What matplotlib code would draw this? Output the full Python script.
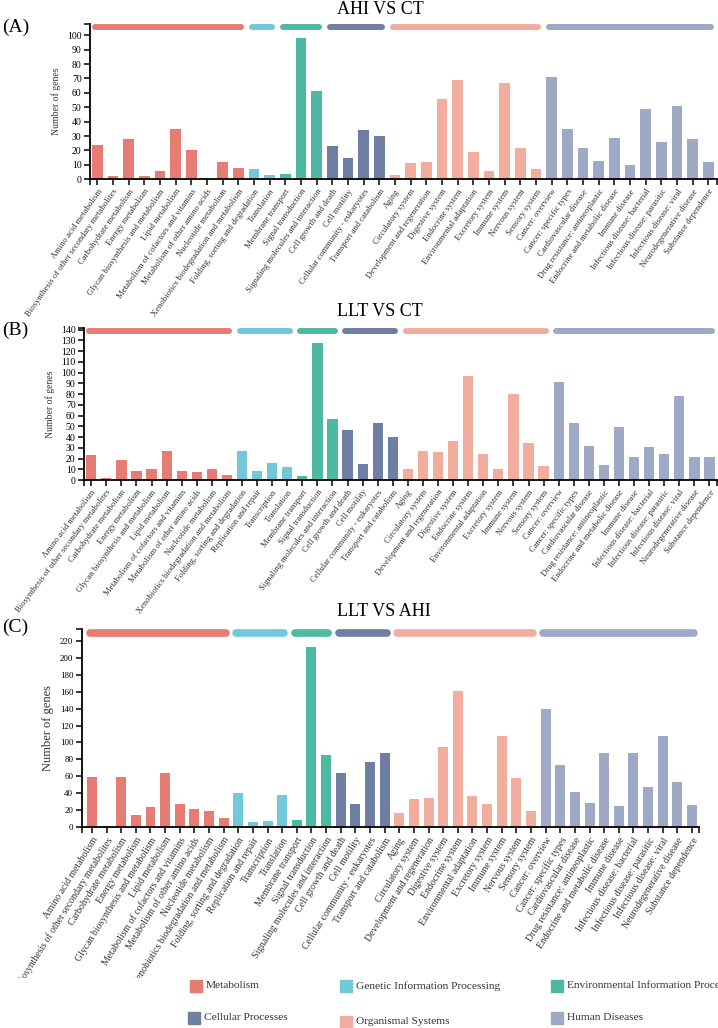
import matplotlib
matplotlib.use("Agg")
import matplotlib.pyplot as plt
from matplotlib.patches import Rectangle
from matplotlib.transforms import Bbox

plt.rcParams['font.family'] = ['Liberation Serif', 'DejaVu Serif']

# KEGG level-1 groups
group_names = ["Metabolism", "Genetic Information Processing",
               "Environmental Information Proce", "Cellular Processes",
               "Organismal Systems", "Human Diseases"]
group_colors = ["#E67C73", "#72C7D8", "#4DB9A3", "#6F7FA1", "#F1AE9F", "#9DA9C5"]

metabolism = ["Amino acid metabolism", "Biosynthesis of other secondary metabolites",
              "Carbohydrate metabolism", "Energy metabolism",
              "Glycan biosynthesis and metabolism", "Lipid metabolism",
              "Metabolism of cofactors and vitamins", "Metabolism of other amino acids",
              "Nucleotide metabolism", "Xenobiotics biodegradation and metabolism"]
genetic_a = ["Folding, sorting and degradation", "Translation"]
genetic_bc = ["Folding, sorting and degradation", "Replication and repair",
              "Transcription", "Translation"]
environmental = ["Membrane transport", "Signal transduction",
                 "Signaling molecules and interaction"]
cellular = ["Cell growth and death", "Cell motility",
            "Cellular community - eukaryotes", "Transport and catabolism"]
organismal = ["Aging", "Circulatory system", "Development and regeneration",
              "Digestive system", "Endocrine system", "Environmental adaptation",
              "Excretory system", "Immune system", "Nervous system", "Sensory system"]
human = ["Cancer: overview", "Cancer: specific types", "Cardiovascular disease",
         "Drug resistance: antineoplastic", "Endocrine and metabolic disease",
         "Immune disease", "Infectious disease: bacterial",
         "Infectious disease: parasitic", "Infectious disease: viral",
         "Neurodegenerative disease", "Substance dependence"]

# AHI vs CT
a_metab = [24, 2, 28, 2, 6, 35, 20, 0, 12, 8]
a_gen = [7, 3]
a_env = [4, 98, 61]
a_cell = [23, 15, 34, 30]
a_org = [3, 11, 12, 56, 69, 19, 6, 67, 22, 7]
a_hum = [71, 35, 22, 13, 29, 10, 49, 26, 51, 28, 12]

# LLT vs CT
b_metab = [23, 2, 19, 8, 10, 27, 8, 7, 10, 5]
b_gen = [27, 8, 16, 12]
b_env = [4, 128, 57]
b_cell = [47, 15, 53, 40]
b_org = [10, 27, 26, 36, 97, 24, 10, 80, 34, 13]
b_hum = [91, 53, 32, 14, 49, 21, 31, 24, 78, 21, 21]

# LLT vs AHI
c_metab = [59, 2, 59, 15, 24, 64, 27, 21, 19, 11]
c_gen = [41, 6, 8, 38]
c_env = [9, 213, 85]
c_cell = [64, 28, 77, 88]
c_org = [17, 33, 34, 95, 161, 37, 27, 108, 58, 19]
c_hum = [139, 74, 42, 29, 88, 25, 88, 47, 108, 53, 26]

W, H = 718, 1028
fig = plt.figure(figsize=(W / 100, H / 100), dpi=100)


def px_rect(left, right, top, bottom):
    return [left / W, 1 - bottom / H, (right - left) / W, (bottom - top) / H]


def panel(rect, xlim, ymax, yticks, ribbon_y, ribbon_lw, groups, rot, xfs, yfs, labfs):
    ax = fig.add_axes(rect)
    names, vals, cols, spans = [], [], [], []
    for gi, (n, v) in enumerate(groups):
        spans.append((len(names), len(names) + len(n) - 1, group_colors[gi]))
        names += n
        vals += v
        cols += [group_colors[gi]] * len(n)
    x = list(range(len(names)))
    ax.bar(x, vals, width=0.68, color=cols, zorder=2)
    for i0, i1, c in spans:
        ax.plot([i0 - 0.15, i1 + 0.15], [ribbon_y, ribbon_y], color=c, lw=ribbon_lw,
                solid_capstyle='round', clip_on=False)
    ax.set_xlim(*xlim)
    ax.set_ylim(0, ymax)
    ax.set_yticks(yticks)
    ax.set_yticks([ymax], minor=True)
    ax.set_xticks(x)
    ax.set_xticks(list(xlim), minor=True)
    ax.set_xticklabels(names, rotation=rot, ha='right', va='top',
                       rotation_mode='anchor', fontsize=xfs, color='#333333')
    ax.tick_params(axis='y', which='both', length=4, width=1.1, labelsize=yfs, pad=2)
    ax.tick_params(axis='x', which='both', length=4, width=1.1, pad=2)
    for s in ['top', 'right']:
        ax.spines[s].set_visible(False)
    for s in ['left', 'bottom']:
        ax.spines[s].set_linewidth(1.3)
    ax.set_ylabel("Number of genes", fontsize=labfs, color='#333333', labelpad=4)
    return ax


panel(px_rect(90, 717, 24, 179.3), (-0.47, 39.55), 107.8, range(0, 101, 10), 105.8, 4.3,
      [(metabolism, a_metab), (genetic_a, a_gen), (environmental, a_env),
       (cellular, a_cell), (organismal, a_org), (human, a_hum)],
      55, 6.2, 7, 7)
panel(px_rect(84, 717, 328, 480), (-0.48, 41.5), 141.5, range(0, 141, 10), 138.7, 4.3,
      [(metabolism, b_metab), (genetic_bc, b_gen), (environmental, b_env),
       (cellular, b_cell), (organismal, b_org), (human, b_hum)],
      53, 6.1, 7, 7)
axc = panel(px_rect(81.7, 699.3, 629, 827.3), (-0.7, 41.5), 233.8, range(0, 221, 20), 229.5, 5.5,
            [(metabolism, c_metab), (genetic_bc, c_gen), (environmental, c_env),
             (cellular, c_cell), (organismal, c_org), (human, c_hum)],
            58, 7, 6.5, 9)

# the long labels of panel C are cut off below y = 978 px, as in the original
clip = Bbox.from_extents(0, H - 978, W, H)
for lab in axc.get_xticklabels():
    lab.set_clip_box(clip)
    lab.set_clip_on(True)

# titles and panel letters
for txt, y in [("AHI VS CT", 9), ("LLT VS CT", 312), ("LLT VS AHI", 612)]:
    fig.text(337 / W, 1 - y / H, txt, fontsize=13, ha='left', va='center')
for txt, y in [("(A)", 27), ("(B)", 330), ("(C)", 627)]:
    fig.text(2 / W, 1 - y / H, txt, fontsize=14, ha='left', va='center')

# legend
legend_pos = [(190, 986), (340, 986), (551, 986), (188, 1018), (340, 1022), (551, 1018)]
for (lx, ly), name, c in zip(legend_pos, group_names, group_colors):
    fig.patches.append(Rectangle((lx / W, 1 - (ly + 6) / H), 12 / W, 12 / H,
                                 color=c, transform=fig.transFigure))
    fig.text((lx + 16) / W, 1 - ly / H, name, fontsize=8.2, ha='left', va='center',
             color='#333333')

fig.savefig("out.png", dpi=100)
